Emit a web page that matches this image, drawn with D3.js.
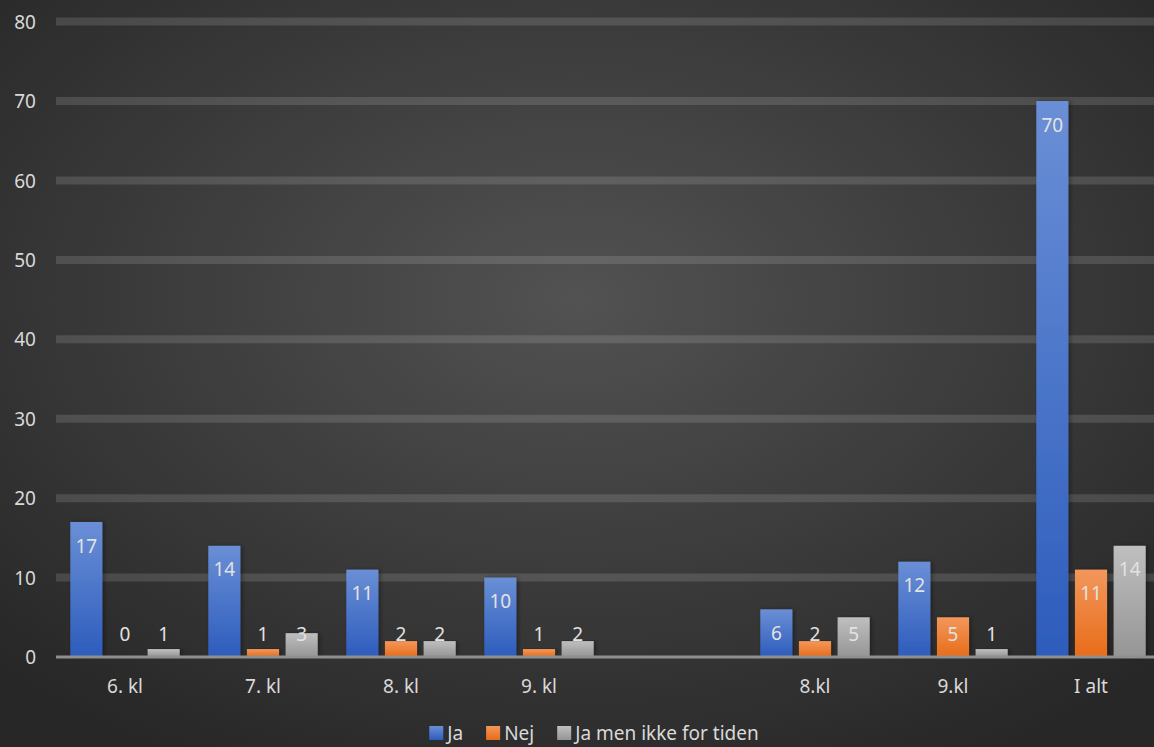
<!DOCTYPE html>
<html><head><meta charset="utf-8">
<script src="https://cdn.jsdelivr.net/npm/d3@7"></script>
<style>html,body{margin:0;padding:0;background:#333;}svg{display:block;}</style>
</head><body>
<svg id="chart" width="1154" height="747"></svg>
<script>
const categories = ["6. kl", "7. kl", "8. kl", "9. kl", "", "8.kl", "9.kl", "I alt"];
const seriesNames = ["Ja", "Nej", "Ja men ikke for tiden"];
const ja = [17, 14, 11, 10, null, 6, 12, 70];
const nej = [0, 1, 2, 1, null, 2, 5, 11];
const jaMen = [1, 3, 2, 2, null, 5, 1, 14];
const yTicks = [0, 10, 20, 30, 40, 50, 60, 70, 80];

const W = 1154, H = 747;
const svg = d3.select("#chart");
const defs = svg.append("defs");
const font = "'Noto Sans', 'Open Sans', sans-serif";
const fs = 19;

// background
const bg = defs.append("radialGradient").attr("id","bg").attr("cx","50%").attr("cy","40%").attr("r","70%");
bg.append("stop").attr("offset","0%").attr("stop-color","#525252");
bg.append("stop").attr("offset","100%").attr("stop-color","#272727");
svg.append("rect").attr("width",W).attr("height",H).attr("fill","url(#bg)");

const colors = [["#6a8fd6","#2d5cbc"],["#f2975c","#e86c18"],["#bfbfbf","#959595"]];
colors.forEach((c,i)=>{
  const g = defs.append("linearGradient").attr("id","g"+i).attr("x1",0).attr("y1",0).attr("x2",0).attr("y2",1);
  g.append("stop").attr("offset","0%").attr("stop-color",c[0]);
  g.append("stop").attr("offset","100%").attr("stop-color",c[1]);
});
const f = defs.append("filter").attr("id","sh").attr("x","-20%").attr("y","-5%").attr("width","150%").attr("height","110%");
f.append("feDropShadow").attr("dx",2).attr("dy",0).attr("stdDeviation",2).attr("flood-color","#000").attr("flood-opacity",0.35);

const x0 = d3.scaleBand().domain(d3.range(categories.length)).range([56, 1160]).paddingInner(0).paddingOuter(0);
const x1 = d3.scaleBand().domain([0,1,2]).range([0, x0.bandwidth()]).paddingInner(0.17).paddingOuter(0.37);
const y = d3.scaleLinear().domain([0, 80]).range([657, 21.6]);

// gridlines
svg.append("g").selectAll("line").data(yTicks.filter(t=>t>0)).join("line")
  .attr("x1",56).attr("x2",1154).attr("y1",d=>y(d)).attr("y2",d=>y(d))
  .attr("stroke","rgba(255,255,255,0.13)").attr("stroke-width",8);

// y axis labels
const yAxis = d3.axisLeft(y).tickValues(yTicks).tickSize(0).tickPadding(0);
const ya = svg.append("g").attr("transform","translate(36,0)").call(yAxis);
ya.select(".domain").remove();
ya.selectAll("text").attr("fill","#d9d9d9").attr("font-size",fs).attr("font-family",font).attr("dy","0.35em");

const series = [ja, nej, jaMen];
const groups = svg.append("g").selectAll("g").data(categories.map((c,i)=>i)).join("g")
  .attr("transform", i=>`translate(${x0(i)},0)`);

groups.each(function(ci){
  const g = d3.select(this);
  series.forEach((s,si)=>{
    const v = s[ci];
    if (v == null) return;
    if (v > 0) {
      g.append("rect").attr("x",x1(si)).attr("width",x1.bandwidth())
        .attr("y",y(v)).attr("height",y(0)-y(v))
        .attr("fill","url(#g"+si+")").attr("filter","url(#sh)");
    }
    g.append("text").attr("x",x1(si)+x1.bandwidth()/2)
      .attr("y",Math.min(y(v)+24, 634)).attr("dy","0.35em")
      .attr("text-anchor","middle").attr("fill","#e2e2e2")
      .attr("font-size",fs).attr("font-family",font).text(v);
  });
});

// baseline
svg.append("line").attr("x1",56).attr("x2",1154).attr("y1",y(0)).attr("y2",y(0))
  .attr("stroke","#8f8f8f").attr("stroke-width",3);

// category axis
const xAxis = d3.axisBottom(x0).tickSize(0).tickFormat(i=>categories[i]);
const xa = svg.append("g").attr("transform",`translate(0,${y(0)})`).call(xAxis);
xa.select(".domain").remove();
xa.selectAll("text").attr("fill","#d9d9d9").attr("font-size",fs).attr("font-family",font).attr("y",29).attr("dy","0.35em");

// legend
const leg = svg.append("g");
let lx = 0;
seriesNames.forEach((n,i)=>{
  const it = leg.append("g");
  it.append("rect").attr("x",0).attr("y",-7).attr("width",14).attr("height",14).attr("fill","url(#g"+i+")");
  const t = it.append("text").attr("x",18).attr("y",0).attr("dy","0.35em").attr("fill","#d9d9d9")
    .attr("font-size",fs).attr("font-family",font).text(n);
  const w = 18 + t.node().getComputedTextLength();
  it.attr("transform",`translate(${lx},0)`);
  lx += w + 23;
});
const totalW = lx - 23;
leg.attr("transform",`translate(${(W-totalW)/2 + 17},733)`);
</script>
</body></html>
